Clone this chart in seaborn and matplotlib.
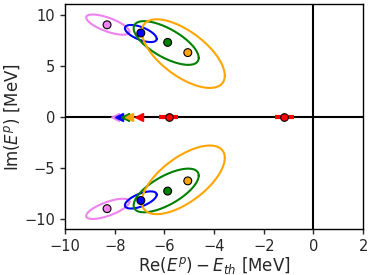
import numpy as np
import pandas as pd
import matplotlib
matplotlib.use("Agg")
import matplotlib.pyplot as plt
import seaborn as sns

# --- data -------------------------------------------------------------
labels = ["violet", "blue", "green", "orange"]
colors = ["violet", "blue", "green", "orange"]
pole_re = [-8.31, -6.95, -5.87, -5.06]
pole_im = [9.00, 8.20, 7.28, 6.28]

# uncertainty ellipses (centre, sigma_re, sigma_im, correlation)
ell_re = [-8.28, -6.95, -5.93, -5.24]
ell_im = [9.02, 8.15, 7.22, 6.18]
ell_sre = [0.87, 0.64, 1.31, 1.67]
ell_sim = [0.99, 0.84, 2.14, 3.36]
ell_rho = [-0.70, -0.62, -0.68, -0.64]

# thresholds on the real axis (triangles)
thr_re = [-7.99, -7.82, -7.59, -7.41, -7.01]
thr_colors = ["violet", "blue", "green", "orange", "red"]

# real-axis (bound/virtual) states with errors
real_re = [-5.82, -1.18]
real_err = [0.38, 0.38]

# --- plot -------------------------------------------------------------
sns.set_style("white")
plt.rcParams["font.family"] = ["DejaVu Sans"]
fig = plt.figure(figsize=(3.74, 2.75), dpi=100)
ax = fig.add_axes([0.174, 0.167, 0.797, 0.817])

ax.axhline(0, color="black", lw=1.5, zorder=1)
ax.axvline(0, color="black", lw=1.5, zorder=1)

t = np.linspace(0, 2 * np.pi, 300)
for sign in (1, -1):
    for cx, cy, sx, sy, r, c in zip(ell_re, ell_im, ell_sre, ell_sim, ell_rho, colors):
        phi = np.arccos(r)
        ex = cx + sx * np.cos(t)
        ey = sign * (cy + sy * np.cos(t - phi))
        ax.plot(ex, ey, color=c, lw=1.5, zorder=2)

df = pd.DataFrame({
    "re": pole_re + pole_re,
    "im": pole_im + [-v for v in pole_im],
    "lab": labels + labels,
})
sns.scatterplot(data=df, x="re", y="im", hue="lab", palette=dict(zip(labels, colors)),
                s=32, edgecolor="black", linewidth=0.8, legend=False, ax=ax, zorder=4)

for x, c in zip(thr_re, thr_colors):
    ax.plot([x], [0], marker="<", color=c, ms=6, ls="none", zorder=3)

ax.errorbar(real_re, [0, 0], xerr=real_err, fmt="o", color="red", ecolor="red",
            elinewidth=3, capsize=0, ms=5.5, mec="black", mew=0.8, zorder=4)

ax.set_xlim(-10, 2)
ax.set_ylim(-11, 11)
ax.set_xticks([-10, -8, -6, -4, -2, 0, 2])
ax.set_yticks([-10, -5, 0, 5, 10])
ax.tick_params(labelsize=10.5, direction="out", length=3.5, width=1, left=True, bottom=True)
for s in ax.spines.values():
    s.set_color("black")
    s.set_linewidth(1)
ax.set_xlabel(r"Re$(E^p) - E_{th}$ [MeV]", fontsize=12, labelpad=1)
ax.set_ylabel(r"Im$(E^p)$ [MeV]", fontsize=12, labelpad=2)

fig.savefig("out.png", dpi=100)
